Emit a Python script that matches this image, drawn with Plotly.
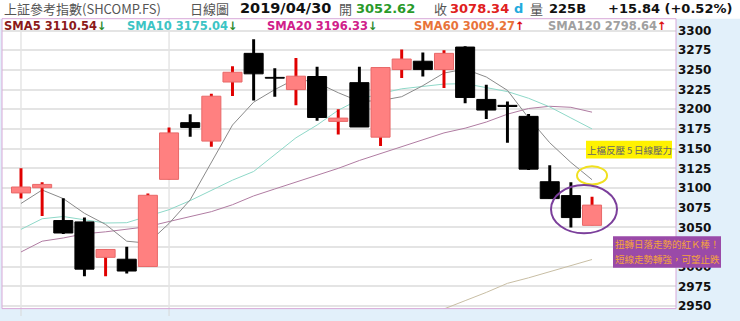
import plotly.graph_objects as go

# ---------------- data ----------------
dates = ["2019-03-21", "2019-03-22", "2019-03-25", "2019-03-26", "2019-03-27", "2019-03-28", "2019-03-29",
         "2019-04-01", "2019-04-02", "2019-04-03", "2019-04-04", "2019-04-08", "2019-04-09", "2019-04-10",
         "2019-04-11", "2019-04-12", "2019-04-15", "2019-04-16", "2019-04-17", "2019-04-18", "2019-04-19",
         "2019-04-22", "2019-04-23", "2019-04-24", "2019-04-25", "2019-04-26", "2019-04-29", "2019-04-30"]
opens = [3093.8, 3100.4, 3058.7, 3057.0, 3012.0, 3009.6, 3000.4,
         3111.0, 3183.0, 3159.6, 3234.6, 3271.0, 3240.5, 3225.0,
         3241.6, 3184.6, 3233.8, 3164.6, 3250.4, 3261.0, 3250.4,
         3279.0, 3212.5, 3205.0, 3191.0, 3108.0, 3090.4, 3052.62]
highs = [3125.0, 3107.5, 3087.0, 3062.5, 3022.0, 3025.4, 3093.0,
         3177.0, 3193.8, 3219.6, 3254.6, 3289.0, 3252.0, 3265.0,
         3254.0, 3200.0, 3254.0, 3253.0, 3276.0, 3272.0, 3275.0,
         3280.0, 3231.0, 3210.0, 3194.0, 3129.0, 3107.5, 3088.8]
lows = [3086.6, 3064.6, 3041.7, 2988.0, 2988.0, 2991.6, 3000.4,
        3111.0, 3165.0, 3152.5, 3217.0, 3211.0, 3216.0, 3205.0,
        3185.4, 3168.0, 3177.5, 3153.4, 3239.6, 3241.6, 3227.0,
        3207.5, 3187.5, 3157.5, 3123.0, 3086.6, 3050.0, 3052.62]
closes = [3101.3, 3104.6, 3042.9, 2997.0, 3022.0, 2994.6, 3090.8,
          3170.0, 3177.0, 3216.6, 3247.0, 3245.0, 3239.5, 3242.0,
          3189.6, 3188.8, 3177.5, 3253.0, 3263.8, 3250.4, 3271.0,
          3215.0, 3199.0, 3203.5, 3124.0, 3086.6, 3062.5, 3078.34]
sma5 = [3080.4, 3097.5, 3086.6, 3067.9, 3053.8, 3032.5, 3030.0,
        3055.0, 3085.0, 3132.0, 3180.0, 3209.0, 3225.0, 3238.8,
        3233.8, 3221.0, 3210.0, 3211.0, 3216.0, 3230.0, 3246.0,
        3251.0, 3241.0, 3224.0, 3189.0, 3157.5, 3132.5, 3110.54]
sma10 = [3047.5, 3061.0, 3063.8, 3060.0, 3055.6, 3056.0, 3063.8,
         3072.5, 3084.0, 3097.5, 3110.0, 3121.0, 3142.5, 3163.8,
         3180.0, 3198.8, 3212.5, 3220.0, 3226.0, 3229.0, 3232.0,
         3232.5, 3227.5, 3222.5, 3214.0, 3203.0, 3189.0, 3175.04]
sma20 = [3018.8, 3032.5, 3036.6, 3041.9, 3044.4, 3047.5, 3051.0,
         3057.5, 3063.8, 3070.0, 3078.8, 3090.0, 3098.8, 3107.5,
         3116.0, 3125.0, 3135.0, 3143.8, 3152.5, 3161.0, 3170.0,
         3176.0, 3183.8, 3193.8, 3201.0, 3203.8, 3202.5, 3196.33]
sma60 = [None] * 19 + [2936.0, 2946.0, 2957.0, 2967.5, 2979.0, 2986.0, 2994.0, 3002.0, 3009.27]
y_ticks = [2950, 2975, 3000, 3025, 3050, 3075, 3100, 3125, 3150, 3175, 3200, 3225, 3250, 3275, 3300]
# 3025 sits fully behind the purple note box in the reference
y_tick_text = ["2950", "2975", "3000", "", "3050", "3075", "3100", "3125", "3150", "3175",
               "3200", "3225", "3250", "3275", "3300"]
month_marks = ["2019-03-21", "2019-04-01"]

header_items = [
    ("上証參考指數(SHCOMP.FS)", 2, "#555555", 13, "normal", "Noto Sans CJK TC"),
    ("日線圖", 188, "#555555", 13, "normal", "Noto Sans CJK TC"),
    ("2019/04/30", 238, "#111111", 14.5, "bold", "DejaVu Sans"),
    ("開", 337, "#555555", 13, "normal", "Noto Sans CJK TC"),
    ("3052.62", 354, "#2a9a2a", 13, "bold", "DejaVu Sans"),
    ("收", 432, "#555555", 13, "normal", "Noto Sans CJK TC"),
    ("3078.34", 448, "#e02020", 13, "bold", "DejaVu Sans"),
    ("d", 512, "#22aadd", 13, "bold", "DejaVu Sans"),
    ("量", 528, "#555555", 13, "normal", "Noto Sans CJK TC"),
    ("225B", 547, "#111111", 13, "bold", "DejaVu Sans"),
    ("+15.84 (+0.52%)", 606, "#111111", 13, "bold", "DejaVu Sans"),
]
sma_labels = [
    ("SMA5 3110.54", "↓", 2, "#8b1a1a", "#2a8a2a"),
    ("SMA10 3175.04", "↓", 125, "#3cc4c4", "#2a8a2a"),
    ("SMA20 3196.33", "↓", 265, "#d0208a", "#2a8a2a"),
    ("SMA60 3009.27", "↑", 412, "#e8743a", "#dd1111"),
    ("SMA120 2798.64", "↑", 546, "#a0a0a0", "#dd1111"),
]

# ---------------- geometry ----------------
W, H = 740, 321
px_l, px_r, px_t, px_b = 2, 676, 19, 313.5
xr = [-0.898, 30.97]
yr = [2946.9, 3315.0]

idx = list(range(len(dates)))
month_idx = [dates.index(d) for d in month_marks]
up = [c >= o for o, c in zip(opens, closes)]


def py2p(y):
    return 1 - y / H


fig = go.Figure()

# moving average lines (base axes, drawn beneath candles)
for vals, col in [(sma60, "#c8bea4"), (sma20, "#b07ca2"), (sma10, "#8ed8c8"), (sma5, "#8a8a8a")]:
    fig.add_trace(go.Scatter(x=idx, y=vals, mode="lines", line=dict(color=col, width=1),
                             hoverinfo="skip", showlegend=False, xaxis="x", yaxis="y"))

styles = [(True, "#e00000", "#ff8080", "#e86868"), (False, "#000000", "#000000", "#000000")]
# wicks
for is_up, wick_col, body_col, body_line in styles:
    xs = [i for i in idx if up[i] == is_up]
    fig.add_trace(go.Bar(x=xs, base=[lows[i] for i in xs], y=[highs[i] - lows[i] for i in xs],
                         width=0.14, marker=dict(color=wick_col, line=dict(width=0)),
                         hoverinfo="skip", showlegend=False, xaxis="x2", yaxis="y2"))
# bodies
for is_up, wick_col, body_col, body_line in styles:
    xs = [i for i in idx if up[i] == is_up]
    fig.add_trace(go.Bar(x=xs, base=[min(opens[i], closes[i]) for i in xs],
                         y=[abs(closes[i] - opens[i]) for i in xs],
                         width=0.9, marker=dict(color=body_col, line=dict(color=body_line, width=1)),
                         hoverinfo="skip", showlegend=False, xaxis="x2", yaxis="y2"))

dom_x = [px_l / W, px_r / W]
dom_y = [1 - px_b / H, 1 - px_t / H]

shapes = []
shapes.append(dict(type="rect", xref="paper", yref="paper", x0=0, x1=1, y0=dom_y[1], y1=1,
                   fillcolor="white", line=dict(width=0), layer="below"))
for m in month_idx:
    shapes.append(dict(type="line", xref="x", yref="paper", x0=m, x1=m, y0=0, y1=dom_y[1],
                       line=dict(color="#d8d8d8", width=1), layer="below"))
shapes.append(dict(type="rect", xref="paper", yref="paper", x0=dom_x[0], x1=dom_x[1],
                   y0=dom_y[0], y1=dom_y[1], line=dict(color="#d8a8d8", width=1)))
shapes.append(dict(type="circle", xref="x", yref="y", x0=26.29, x1=27.71, y0=3104.6, y1=3127.5,
                   line=dict(color="#f0e020", width=2)))
shapes.append(dict(type="circle", xref="x", yref="y", x0=25.06, x1=28.18, y0=3042.5, y1=3103.8,
                   line=dict(color="#7b3f9b", width=2)))
shapes.append(dict(type="rect", xref="paper", yref="paper", x0=586 / W, x1=672 / W,
                   y0=py2p(161), y1=py2p(143), fillcolor="#fff200", line=dict(width=0)))
shapes.append(dict(type="rect", xref="paper", yref="paper", x0=613 / W, x1=721 / W,
                   y0=py2p(272), y1=py2p(240), fillcolor="#9a4aa8", line=dict(width=0)))

ann = []
for text, x, col, size, weight, fam in header_items:
    ann.append(dict(text=text, x=x / W, y=py2p(8.5), xref="paper", yref="paper", xanchor="left",
                    yanchor="middle", showarrow=False,
                    font=dict(family=fam, size=size, color=col, weight=weight)))
for text, arrow, x, col, acol in sma_labels:
    ann.append(dict(text=f"{text}<span style='color:{acol}'>{arrow}</span>", x=x / W, y=py2p(26.5),
                    xref="paper", yref="paper", xanchor="left", yanchor="middle", showarrow=False,
                    font=dict(family="DejaVu Sans", size=11.5, color=col, weight="bold")))
ann.append(dict(text="上檔反壓\u20095\u2009日線壓力", x=629 / W, y=py2p(152), xref="paper", yref="paper",
                xanchor="center", yanchor="middle", showarrow=False,
                font=dict(family="Noto Sans CJK TC", size=9.5, color="#666666")))
ann.append(dict(text="扭轉日落走勢的紅Ｋ棒！", x=667 / W, y=py2p(248), xref="paper", yref="paper",
                xanchor="center", yanchor="middle", showarrow=False,
                font=dict(family="Noto Sans CJK TC", size=9.5, color="#f4a23c")))
ann.append(dict(text="短線走勢轉強，可望止跌", x=667 / W, y=py2p(263.5), xref="paper", yref="paper",
                xanchor="center", yanchor="middle", showarrow=False,
                font=dict(family="Noto Sans CJK TC", size=9.5, color="#f4a23c")))

fig.update_layout(
    width=W, height=H, margin=dict(l=0, r=0, t=0, b=0),
    paper_bgcolor="#e2f0fa", plot_bgcolor="white",
    barmode="overlay", showlegend=False,
    xaxis=dict(domain=dom_x, range=xr, showticklabels=False, showgrid=False, zeroline=False,
               fixedrange=True),
    yaxis=dict(domain=dom_y, range=yr, side="right", tickvals=y_ticks, ticktext=y_tick_text,
               ticks="", showgrid=True, gridcolor="#e4e4e4", gridwidth=1.5, zeroline=False,
               ticklabelstandoff=1,
               tickfont=dict(family="DejaVu Sans", size=12, color="#111111", weight="bold")),
    xaxis2=dict(overlaying="x", range=xr, visible=False),
    yaxis2=dict(overlaying="y", range=yr, visible=False),
    shapes=shapes, annotations=ann,
)

fig.write_html("out.html")
